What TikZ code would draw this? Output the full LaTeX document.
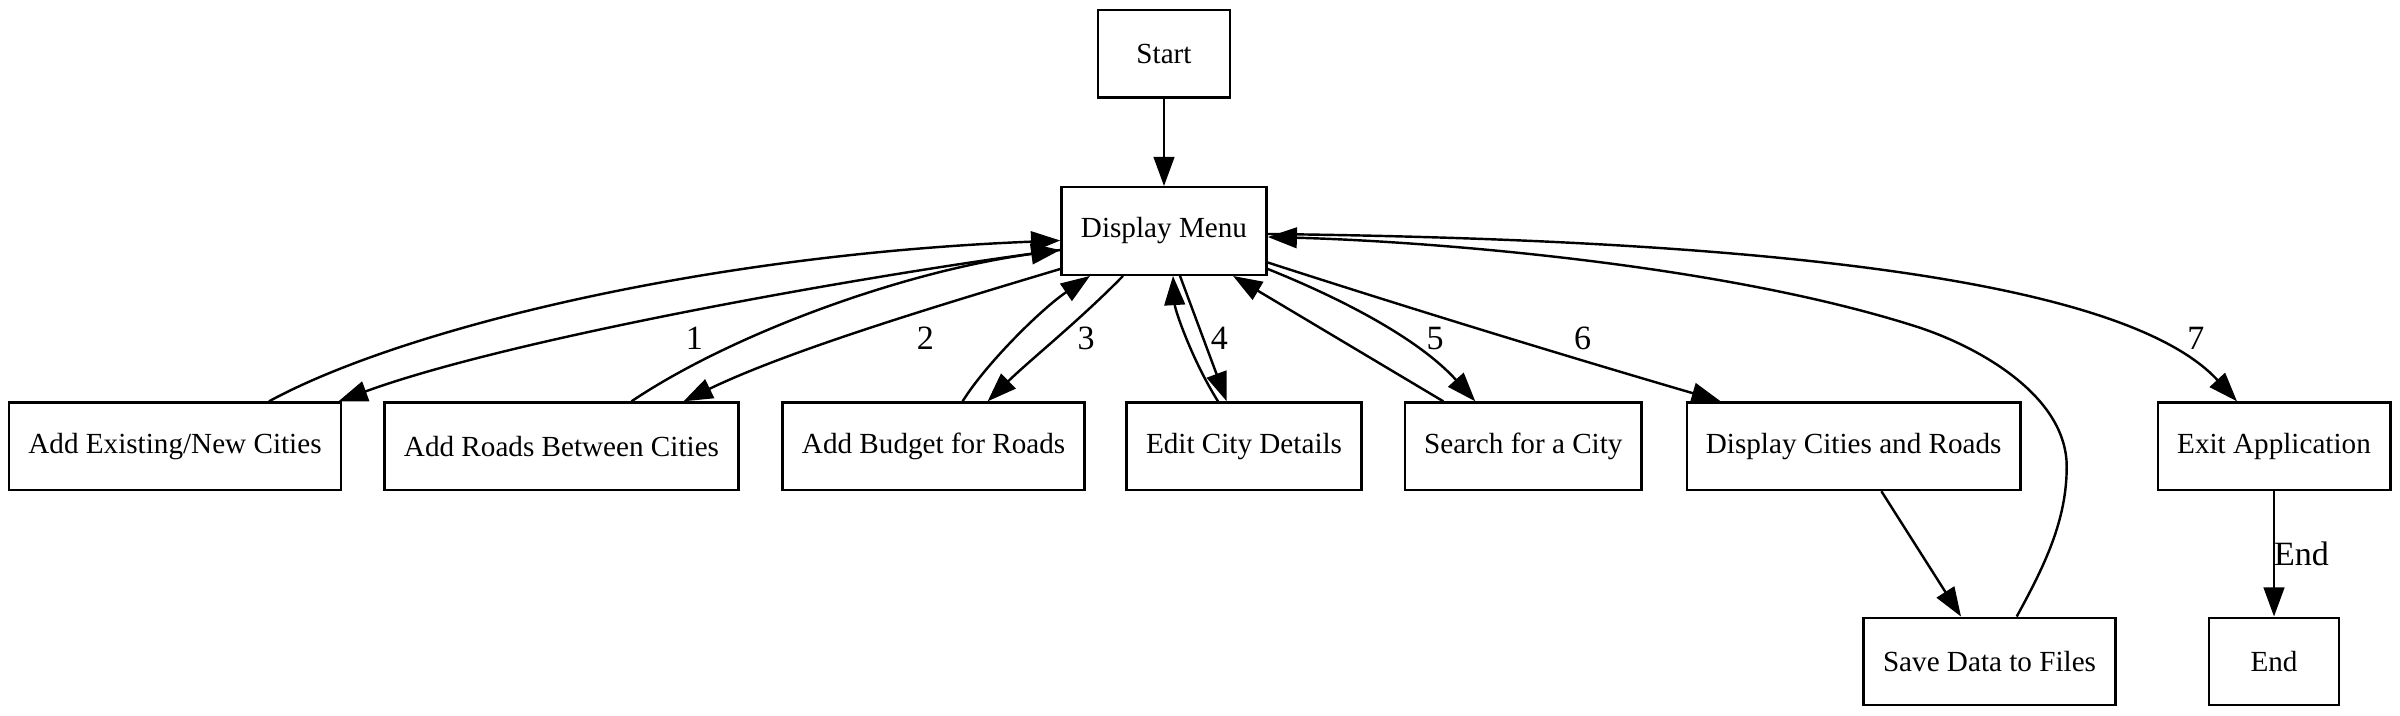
\documentclass[tikz,border=0pt]{standalone}
\usepackage{fontspec}
\setmainfont{Liberation Serif}
\usetikzlibrary{calc,arrows.meta}
\begin{document}
\begin{tikzpicture}[x=0.4115pt,y=-0.4115pt,
  box/.style={draw,line width=1pt,minimum height=36pt,inner xsep=2pt,font=\fontsize{12}{14}\selectfont},
  conn/.style={line width=1pt,-{Triangle[length=12pt,width=8.5pt]}},
  lab/.style={font=\fontsize{14}{16}\selectfont,inner sep=0pt}]
\useasboundingbox (0,0) rectangle (2400,716);
% nodes
\node[box,minimum width=54.1pt] (start) at (1164,53.7) {Start};
\node[box,minimum width=84.4pt] (menu) at (1164,231) {Display Menu};
\node[box,minimum width=136.5pt] (addc) at (175,446.3) {Add Existing/New Cities};
\node[box,minimum width=145.8pt] (addr) at (561.5,446.3) {Add Roads Between Cities};
\node[box,minimum width=124.3pt] (budg) at (933.6,446.3) {Add Budget for Roads};
\node[box,minimum width=96.8pt] (edit) at (1244,446.3) {Edit City Details};
\node[box,minimum width=97.4pt] (srch) at (1523.3,446.3) {Search for a City};
\node[box,minimum width=137.2pt] (disp) at (1853.7,446.3) {Display Cities and Roads};
\node[box,minimum width=95.7pt] (exit) at (2274,446.3) {Exit Application};
\node[box,minimum width=103.6pt] (save) at (1989.5,661.5) {Save Data to Files};
\node[box,minimum width=53.7pt] (end) at (2274,661.5) {End};
% edges
\draw[conn] (start) -- (menu);
% option 1
\draw[conn] ($(addc.north)+(94,0)$) .. controls (400,330) and (700,255) .. ($(menu.west)+(0,9.5)$);
\draw[conn] ($(menu.west)+(0,19)$) .. controls (900,270) and (520,335) .. ($(addc.north)+(163.4,0)$);
\node[lab] (l1) at (694.4,338.3) {1};
% option 2
\draw[conn] ($(addr.north)+(70,0)$) .. controls (730,335) and (900,272) .. ($(menu.west)+(0,19)$);
\draw[conn] ($(menu.west)+(0,38)$) .. controls (940,305) and (790,350) .. ($(addr.north)+(122,0)$);
\node[lab] (l2) at (925.3,338.3) {2};
% option 3
\draw[conn] ($(budg.north)+(29,0)$) .. controls (985,365) and (1040,310) .. ($(menu.south)+(-74,0)$);
\draw[conn] ($(menu.south)+(-41,0)$) .. controls (1080,320) and (1030,360) .. ($(budg.north)+(54,0)$);
\node[lab] (l3) at (1086,338.3) {3};
% option 4
\draw[conn] ($(edit.north)+(-26,0)$) .. controls (1192,360) and (1175,310) .. ($(menu.south)+(9,0)$);
\draw[conn] ($(menu.south)+(16,0)$) -- ($(edit.north)+(-17.3,0)$);
\node[lab] (l4) at (1219.3,338.3) {4};
% option 5
\draw[conn] ($(srch.north)+(-80,0)$) -- ($(menu.south)+(69,0)$);
\draw[conn] ($(menu.east)+(0,38)$) .. controls (1345,300) and (1420,340) .. ($(srch.north)+(-48,0)$);
\node[lab] (l5) at (1435,338.3) {5};
% option 6
\draw[conn] ($(menu.east)+(0,31.5)$) .. controls (1418,311) and (1569,357) .. ($(disp.north)+(-133,0)$);
\node[lab] (l6) at (1582.7,338.3) {6};
\draw[conn] ($(disp.south)+(27.7,0)$) -- ($(save.north)+(-28.5,0)$);
\draw[conn] ($(save.north)+(27.2,0)$) .. controls (2045,565) and (2066.7,520) .. (2066.7,466.7)
  .. controls (2066.7,395) and (1976.7,346) .. (1916.7,326.7)
  .. controls (1716.7,262.7) and (1420,241) .. ($(menu.east)+(0,6)$);
% option 7
\draw[conn] ($(menu.east)+(0,3)$) .. controls (1800,240) and (2130,285) .. ($(exit.north)+(-37,0)$);
\node[lab] (l7) at (2195.8,338.3) {7};
\draw[conn] (exit) -- (end);
\node[lab] (lend) at (2301.5,553.5) {End};
\end{tikzpicture}
\end{document}
